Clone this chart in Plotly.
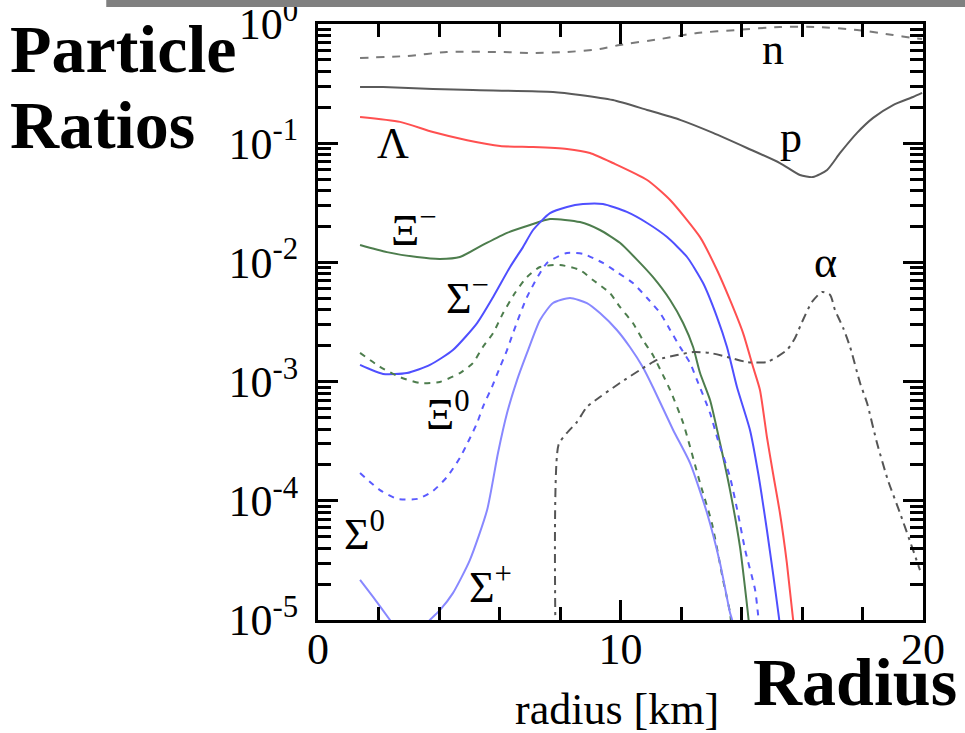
import plotly.graph_objects as go

# ---------------- data (radius in km, particle ratio) ----------------
r_n = [1.39, 2.94, 4.26, 6.02, 7.11, 8.23, 9.32, 9.98, 11.31, 12.53, 13.85, 15.27, 16.50, 17.82, 19.01, 19.67, 19.97]
v_n = [0.519, 0.539, 0.582, 0.582, 0.571, 0.582, 0.617, 0.667, 0.748, 0.840, 0.891, 0.944, 0.944, 0.891, 0.809, 0.764, 0.748]

r_p = [1.39, 2.15, 3.80, 5.12, 7.77, 8.66, 9.75, 10.88, 11.97, 13.06, 14.18, 15.27, 15.93, 16.36, 16.83, 17.26, 17.82, 18.35, 19.01, 19.67, 19.97]
v_p = [0.296, 0.296, 0.285, 0.279, 0.269, 0.254, 0.230, 0.190, 0.157, 0.122, 0.0912, 0.0682, 0.0541, 0.052, 0.0596, 0.0828, 0.122, 0.163, 0.209, 0.244, 0.264]

r_lam = [1.39, 2.71, 3.80, 4.93, 6.02, 7.11, 8.23, 8.99, 9.75, 10.88, 11.64, 12.63, 13.19, 13.62, 14.05, 14.38, 14.61, 14.84, 15.04, 15.27, 15.50, 15.70, 15.80]
v_lam = [0.166, 0.151, 0.124, 0.106, 0.0948, 0.0929, 0.0894, 0.0828, 0.0682, 0.0491, 0.0334, 0.0163, 8.63e-3, 4.84e-3, 2.56e-3, 1.33e-3, 8.5e-4, 3.43e-4, 1.71e-4, 7.9e-5, 3.0e-5, 1.04e-5, 7.0e-6]

r_xim = [1.39, 2.28, 3.27, 4.03, 4.69, 5.45, 6.25, 7.01, 7.67, 8.66, 9.32, 9.98, 10.55, 11.07, 11.64, 12.07, 12.40, 12.63, 12.96, 13.29, 13.62, 13.95, 14.21, 14.30]
v_xim = [1.40e-2, 1.22e-2, 1.11e-2, 1.07e-2, 1.11e-2, 1.40e-2, 1.77e-2, 2.06e-2, 2.31e-2, 2.18e-2, 1.87e-2, 1.46e-2, 1.05e-2, 7.55e-3, 4.84e-3, 3.10e-3, 1.95e-3, 1.18e-3, 7.0e-4, 3.05e-4, 1.23e-4, 4.1e-5, 1.15e-5, 7.0e-6]

r_sigm = [1.39, 2.15, 2.94, 3.70, 4.46, 5.26, 5.79, 6.35, 6.78, 7.11, 7.67, 8.23, 8.76, 9.42, 10.21, 10.88, 11.54, 12.20, 12.73, 13.19, 13.52, 13.85, 14.28, 14.55, 14.84, 15.04, 15.24, 15.32]
v_sigm = [1.38e-3, 1.16e-3, 1.18e-3, 1.38e-3, 1.84e-3, 3.10e-3, 5.13e-3, 9.15e-3, 1.35e-2, 1.87e-2, 2.59e-2, 2.92e-2, 3.09e-2, 3.09e-2, 2.65e-2, 2.14e-2, 1.63e-2, 1.11e-2, 6.71e-3, 3.48e-3, 1.95e-3, 9.0e-4, 3.93e-4, 1.71e-4, 5.69e-5, 2.48e-5, 1.04e-5, 7.0e-6]

r_xi0 = [1.39, 2.05, 2.71, 3.37, 4.03, 4.69, 5.12, 5.45, 5.79, 6.12, 6.51, 6.91, 7.34, 8.00, 8.66, 9.09, 9.65, 9.98, 10.41, 10.74, 11.07, 11.40, 11.64, 12.07, 12.63, 13.02, 13.39, 13.62, 13.70]
v_xi0 = [1.74e-3, 1.33e-3, 1.09e-3, 9.73e-4, 9.93e-4, 1.18e-3, 1.43e-3, 1.95e-3, 2.56e-3, 3.76e-3, 5.53e-3, 7.55e-3, 9.15e-3, 9.51e-3, 8.63e-3, 7.12e-3, 5.53e-3, 4.23e-3, 3.10e-3, 2.23e-3, 1.67e-3, 1.14e-3, 8.5e-4, 4.5e-4, 1.41e-4, 6.5e-5, 2.17e-5, 1.15e-5, 7.0e-6]

r_sig0 = [1.39, 2.05, 2.61, 3.31, 3.80, 4.26, 4.69, 4.96, 5.26, 5.45, 5.75, 6.02, 6.25, 6.45, 6.91, 7.57, 8.23, 8.76, 9.42, 9.88, 10.41, 10.88, 11.31, 11.64, 11.97, 12.30, 12.53, 12.96, 13.22, 13.62, 13.88, 14.12, 14.45, 14.55, 14.65]
v_sig0 = [1.71e-4, 1.23e-4, 1.04e-4, 1.04e-4, 1.21e-4, 1.58e-4, 2.29e-4, 3.11e-4, 4.5e-4, 6.12e-4, 9.0e-4, 1.33e-3, 1.84e-3, 2.56e-3, 5.13e-3, 9.89e-3, 1.20e-2, 1.18e-2, 9.89e-3, 8.30e-3, 6.71e-3, 5.03e-3, 3.76e-3, 2.71e-3, 1.95e-3, 1.43e-3, 1.03e-3, 5.45e-4, 3.24e-4, 1.58e-4, 7.9e-5, 3.87e-5, 1.79e-5, 1.1e-5, 7.0e-6]

r_sigp = [1.39, 1.82, 2.38, 3.00, 3.70, 4.03, 4.46, 5.02, 5.59, 5.95, 6.25, 6.58, 6.91, 7.34, 7.77, 8.33, 8.89, 9.32, 9.88, 10.31, 10.74, 11.07, 11.74, 12.30, 12.86, 13.29, 13.62, 13.69, 13.75]
v_sigp = [2.17e-5, 1.56e-5, 1.0e-5, 6.0e-6, 1.0e-5, 1.21e-5, 1.68e-5, 3.18e-5, 8.37e-5, 2.52e-4, 5.45e-4, 1.03e-3, 1.74e-3, 3.29e-3, 4.56e-3, 5.03e-3, 4.56e-3, 3.76e-3, 2.71e-3, 1.95e-3, 1.32e-3, 9.01e-4, 3.93e-4, 2.07e-4, 7.9e-5, 3.0e-5, 1.15e-5, 1.0e-5, 7.0e-6]

r_alpha = [7.90, 7.95, 8.23, 8.56, 8.89, 9.32, 9.98, 10.64, 11.21, 11.87, 12.40, 12.96, 13.52, 14.18, 14.84, 15.50, 15.77, 16.00, 16.33, 16.66, 16.93, 17.09, 17.36, 17.59, 17.92, 18.15, 18.48, 18.84, 19.24, 19.67, 19.90]
v_alpha = [1.0e-6, 2.94e-4, 3.71e-4, 4.58e-4, 6.12e-4, 7.43e-4, 9.73e-4, 1.25e-3, 1.52e-3, 1.67e-3, 1.77e-3, 1.74e-3, 1.61e-3, 1.46e-3, 1.46e-3, 1.84e-3, 2.32e-3, 3.16e-3, 4.66e-3, 5.65e-3, 5.33e-3, 3.99e-3, 2.82e-3, 1.95e-3, 9.73e-4, 6.61e-4, 3.05e-4, 1.49e-4, 7.9e-5, 3.87e-5, 2.62e-5]

x_ticks = [0, 10, 20]
x_tick_labels = ["0", "10", "20"]
x_minor = [2, 4, 6, 8, 12, 14, 16, 18]
y_ticks = [1e-5, 1e-4, 1e-3, 1e-2, 1e-1, 1e0]
y_tick_labels = ["10<sup>-5</sup>", "10<sup>-4</sup>", "10<sup>-3</sup>", "10<sup>-2</sup>", "10<sup>-1</sup>", "10<sup>0</sup>"]
y_minor = [k * 10.0 ** d for d in range(-5, 0) for k in range(2, 10)]

# curve labels: (text, radius, log10 ratio)
curve_labels = [
    ("n", 15.04, -0.21),
    ("p", 15.64, -0.95),
    ("Λ", 2.48, -1.00),
    ("Ξ<sup>−</sup>", 3.18, -1.71),
    ("Σ<sup>−</sup>", 4.93, -2.28),
    ("Ξ<sup>0</sup>", 4.30, -3.25),
    ("Σ<sup>0</sup>", 1.55, -4.26),
    ("Σ<sup>+</sup>", 5.69, -4.70),
    ("α", 16.79, -2.00),
]

SERIF = "Liberation Serif, Times New Roman, serif"

fig = go.Figure()

series = [
    (r_n, v_n, "n", "#7a7a7a", "8px,8px"),
    (r_p, v_p, "p", "#5a5a5a", "solid"),
    (r_lam, v_lam, "Λ", "#ff5050", "solid"),
    (r_xim, v_xim, "Ξ-", "#4d7d4d", "solid"),
    (r_sigm, v_sigm, "Σ-", "#4f4fff", "solid"),
    (r_xi0, v_xi0, "Ξ0", "#4d7d4d", "6px,6px"),
    (r_sig0, v_sig0, "Σ0", "#5a5aff", "6px,6px"),
    (r_sigp, v_sigp, "Σ+", "#8888ff", "solid"),
    (r_alpha, v_alpha, "α", "#555555", "9px,5px,3px,5px"),
]
for xs, ys, name, color, dash in series:
    fig.add_trace(go.Scatter(x=xs, y=ys, mode="lines", name=name,
                             line=dict(color=color, width=2, dash=dash, shape="spline", smoothing=0.6),
                             showlegend=False, hoverinfo="skip"))

for text, xr, ylog in curve_labels:
    fig.add_annotation(x=xr, y=ylog, xref="x", yref="y", text=text, showarrow=False,
                       font=dict(family=SERIF, size=44, color="black"))

# big bold labels
fig.add_annotation(x=-0.513, y=0.958, xref="paper", yref="paper", text="<b>Particle</b>",
                   showarrow=False, xanchor="left", yanchor="middle",
                   font=dict(family=SERIF, size=68, color="black"))
fig.add_annotation(x=-0.513, y=0.830, xref="paper", yref="paper", text="<b>Ratios</b>",
                   showarrow=False, xanchor="left", yanchor="middle",
                   font=dict(family=SERIF, size=68, color="black"))
fig.add_annotation(x=0.716, y=-0.104, xref="paper", yref="paper", text="<b>Radius</b>",
                   showarrow=False, xanchor="left", yanchor="middle",
                   font=dict(family=SERIF, size=68, color="black"))
fig.add_annotation(x=0.494, y=-0.150, xref="paper", yref="paper", text="radius [km]",
                   showarrow=False, xanchor="center", yanchor="middle",
                   font=dict(family=SERIF, size=44, color="black"))

# grey bar at the top of the page
fig.add_shape(type="rect", xref="paper", yref="paper", x0=-0.350, x1=1.08, y0=1.0285, y1=1.05,
              fillcolor="#808080", line=dict(width=0), layer="above")

fig.update_xaxes(range=[0, 20], tickmode="array", tickvals=x_ticks, ticktext=x_tick_labels,
                 ticks="inside", ticklen=20, tickwidth=3, tickcolor="black",
                 showline=True, linewidth=3, linecolor="black", mirror="allticks",
                 showgrid=False, zeroline=False, ticklabeloverflow="allow", automargin=False,
                 tickfont=dict(family=SERIF, size=44, color="black"), ticklabelstandoff=-12,
                 minor=dict(tickmode="array", tickvals=x_minor, ticks="inside", ticklen=13,
                            tickwidth=3, tickcolor="black", showgrid=False))
fig.update_yaxes(type="log", range=[-5, 0], tickmode="array", tickvals=y_ticks, ticktext=y_tick_labels,
                 ticks="inside", ticklen=20, tickwidth=3, tickcolor="black",
                 showline=True, linewidth=3, linecolor="black", mirror="allticks",
                 showgrid=False, zeroline=False, ticklabeloverflow="allow", automargin=False,
                 tickfont=dict(family=SERIF, size=44, color="black"), ticklabelstandoff=8,
                 minor=dict(tickmode="array", tickvals=y_minor, ticks="inside", ticklen=13,
                            tickwidth=3, tickcolor="black", showgrid=False))

fig.update_layout(width=965, height=733,
                  margin=dict(l=318, r=42, t=24, b=113, pad=0, autoexpand=False),
                  plot_bgcolor="white", paper_bgcolor="white", showlegend=False)

fig.write_html("out.html", config={"displayModeBar": False},
               post_script="document.body.style.margin='0px';document.body.style.overflow='hidden';")
